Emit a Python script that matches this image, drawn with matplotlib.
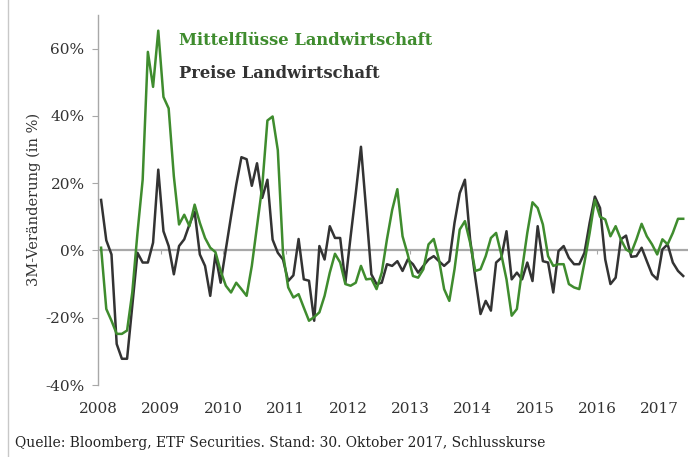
import numpy as np
import matplotlib
matplotlib.use("Agg")
import matplotlib.pyplot as plt
from matplotlib.lines import Line2D

# monthly 3M changes in %, Jan 2008 .. May 2017
flows = [
    0.8, -17.4, -20.9, -24.8, -24.8, -23.8, -12.5, 5.2, 21.0, 59.0, 48.6, 65.3,
    45.6, 42.2, 22.0, 7.7, 10.6, 7.2, 13.6, 8.2, 3.7, 0.8, -0.5, -6.1,
    -10.5, -12.5, -9.6, -11.5, -13.5, -4.6, 7.2, 19.0, 38.6, 39.8, 29.8, -0.8,
    -11.0, -14.0, -13.0, -17.0, -20.9, -19.8, -18.4, -13.5, -6.6, -1.0, -3.6, -10.0,
    -10.5, -9.6, -4.6, -8.6, -8.4, -11.5, -6.6, 3.3, 12.0, 18.2, 4.2, -1.2,
    -7.6, -8.1, -5.6, 1.8, 3.4, -2.7, -11.5, -15.0, -5.6, 6.2, 8.7, 2.3,
    -6.1, -5.6, -1.7, 3.7, 5.2, -1.2, -8.6, -19.4, -17.4, -5.6, 5.2, 14.3,
    12.6, 7.7, -1.7, -4.6, -4.1, -4.1, -10.0, -11.0, -11.5, -3.6, 5.2, 15.0,
    10.0, 9.2, 4.2, 7.2, 3.3, 0.3, -0.7, 3.3, 7.9, 4.2, 1.8, -1.2,
    3.3, 1.8, 5.2, 9.4, 9.4,
]
prices = [
    15.0, 3.0, -1.2, -27.8, -32.2, -32.2, -16.5, -0.7, -3.6, -3.6, 2.3, 24.0,
    5.7, 1.3, -7.1, 1.3, 3.3, 7.7, 11.5, -1.2, -4.6, -13.5, -1.2, -9.6,
    0.3, 10.1, 19.5, 27.7, 27.1, 19.2, 25.9, 15.6, 21.0, 3.2, -0.7, -2.7,
    -9.1, -7.4, 3.4, -8.6, -9.0, -20.9, 1.3, -2.7, 7.2, 3.7, 3.7, -9.6,
    4.0, 17.0, 30.8, 12.0, -7.1, -10.0, -9.6, -4.1, -4.6, -3.2, -6.1, -2.7,
    -4.1, -6.6, -4.6, -2.7, -1.7, -3.2, -4.6, -3.2, 8.2, 17.0, 21.0, 3.3,
    -8.1, -18.9, -15.0, -17.9, -3.6, -2.2, 5.7, -8.6, -6.6, -8.6, -3.6, -9.1,
    7.2, -3.2, -3.6, -12.5, -0.2, 1.3, -2.2, -4.1, -4.1, -0.7, 8.2, 16.0,
    12.6, -2.7, -10.0, -8.1, 3.3, 4.4, -1.9, -1.7, 0.8, -3.2, -7.1, -8.6,
    0.3, 1.8, -3.6, -6.1, -7.6,
]
years = list(range(2008, 2018))
yticks = [-40, -20, 0, 20, 40, 60]

t = 2008 + (np.arange(len(flows)) + 0.5) / 12

green = "#3f8c2e"
dark = "#333333"
grey = "#a8a8a8"
serif = "DejaVu Serif"

fig = plt.figure(figsize=(7, 4.57), dpi=100)
ax = fig.add_axes([0.1407, 0.1575, 0.842, 0.81])

ax.axhline(0, color=grey, lw=1.6, zorder=1)
ax.plot(t, prices, color=dark, lw=1.8, zorder=2)
ax.plot(t, flows, color=green, lw=1.8, zorder=3)

ax.set_xlim(2008, 2017.45)
ax.set_ylim(-40, 70)

for s in ["top", "right", "bottom"]:
    ax.spines[s].set_visible(False)
ax.spines["left"].set_color(grey)
ax.spines["left"].set_linewidth(1.0)

ax.set_yticks(yticks)
ax.set_yticklabels([f"{v}%" for v in yticks], fontfamily=serif, fontsize=11, color=dark)
ax.tick_params(axis="y", length=4, color=grey, pad=6)
ax.set_xticks(years)
ax.set_xticklabels([str(y) for y in years], fontfamily=serif, fontsize=11, color=dark)
ax.tick_params(axis="x", length=0, pad=12)

# small year ticks sitting on the zero line
sec = ax.secondary_xaxis(40 / 110)
sec.set_xticks(years[1:])
sec.set_xticklabels([])
sec.tick_params(length=3, color=grey, direction="out")
sec.spines["bottom"].set_visible(False)

ax.set_ylabel("3M-Veränderung (in %)", fontfamily=serif, fontsize=10.5, color=dark, labelpad=3)

ax.text(0.136, 0.932, "Mittelflüsse Landwirtschaft", transform=ax.transAxes,
        color=green, fontfamily=serif, fontsize=11.8, fontweight="bold", va="center")
ax.text(0.136, 0.842, "Preise Landwirtschaft", transform=ax.transAxes,
        color=dark, fontfamily=serif, fontsize=11.8, fontweight="bold", va="center")

fig.text(0.022, 0.022, "Quelle: Bloomberg, ETF Securities. Stand: 30. Oktober 2017, Schlusskurse",
         fontfamily=serif, fontsize=10, color="#222222")

# thin frame line at the left edge
fig.add_artist(Line2D([0.012, 0.012], [0.0, 1.0], transform=fig.transFigure,
                      color="#c8c8c8", lw=1.0))

fig.savefig("out.png", dpi=100)
